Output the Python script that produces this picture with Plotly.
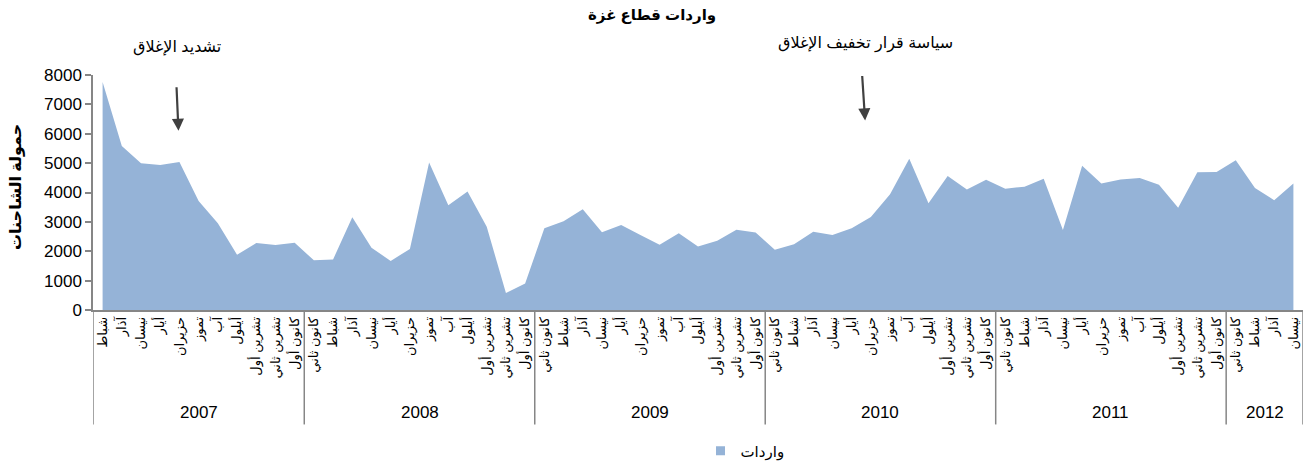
import plotly.graph_objects as go

# ---- data ----
months = ["كانون ثاني", "شباط", "آذار", "نيسان", "أيار", "حزيران", "تموز",
          "آب", "أيلول", "تشرين أول", "تشرين ثاني", "كانون أول"]
years = ["2007", "2008", "2009", "2010", "2011", "2012"]
months_per_year = [11, 12, 12, 12, 12, 4]   # 2007 starts in Feb, 2012 ends in Apr
start_month = [1, 0, 0, 0, 0, 0]

imports = [
    7760, 5580, 5000, 4940, 5040, 3710, 2950, 1880, 2280, 2210, 2290,          # 2007
    1690, 1720, 3160, 2120, 1670, 2080, 5020, 3570, 4030, 2830, 580, 900,      # 2008
    2780, 3020, 3430, 2650, 2890, 2550, 2220, 2610, 2160, 2360, 2730, 2640,    # 2009
    2050, 2240, 2660, 2550, 2780, 3170, 3940, 5150, 3630, 4560, 4100, 4430,    # 2010
    4130, 4200, 4470, 2720, 4910, 4310, 4440, 4490, 4260, 3480, 4690, 4700,    # 2011
    5100, 4150, 3740, 4310,                                                    # 2012
]

title_text = "واردات قطاع غزة"
y_title = "حمولة الشاحنات"
series_name = "واردات"
note1 = "تشديد الإغلاق"
note2 = "سياسة قرار تخفيف الإغلاق"
y_ticks = [0, 1000, 2000, 3000, 4000, 5000, 6000, 7000, 8000]

# ---- build category labels ----
labels = []
for s, n in zip(start_month, months_per_year):
    labels += months[s:s + n]
idx = list(range(len(imports)))

FONT = "Arial, 'Liberation Sans', 'DejaVu Sans', sans-serif"
AXIS = "#868686"
FILL = "#95B3D7"

fig = go.Figure()
fig.add_trace(go.Scatter(
    x=idx, y=imports, mode="none", fill="tozeroy", fillcolor=FILL,
    name=series_name, showlegend=False, legendgroup="s",
))
# legend entry with a square key, as in the original
fig.add_trace(go.Scatter(
    x=[None], y=[None], mode="markers", name=series_name, legendgroup="s",
    marker=dict(symbol="square", size=9, color=FILL), showlegend=True,
))

# year group separators and labels
bounds = [-0.5]
for n in months_per_year:
    bounds.append(bounds[-1] + n)
shapes = []
for b in bounds:
    shapes.append(dict(type="line", xref="x", yref="paper", x0=b, x1=b,
                       y0=0, y1=-0.487, line=dict(color=AXIS, width=1.5)))
annotations = []
for i, yr in enumerate(years):
    annotations.append(dict(x=(bounds[i] + bounds[i + 1]) / 2, y=-0.435,
                            xref="x", yref="paper", text=yr, showarrow=False,
                            font=dict(size=17, color="black", family=FONT),
                            xanchor="center", yanchor="middle"))

# title & y title
annotations.append(dict(x=(652 - 93) / 1210, y=(310 - 15) / 235, xref="paper", yref="paper",
                        text="<b>" + title_text + "</b>", showarrow=False,
                        font=dict(size=15, color="black", family=FONT),
                        xanchor="center", yanchor="middle"))
annotations.append(dict(x=(16 - 93) / 1210, y=(310 - 187) / 235, xref="paper", yref="paper",
                        text="<b>" + y_title + "</b>", showarrow=False, textangle=-90,
                        font=dict(size=16, color="black", family=FONT),
                        xanchor="center", yanchor="middle"))

# event notes
annotations.append(dict(x=(177 - 93) / 1210, y=(310 - 47) / 235, xref="paper", yref="paper",
                        text=note1, showarrow=False,
                        font=dict(size=16, color="black", family=FONT),
                        xanchor="center", yanchor="middle"))
annotations.append(dict(x=(865 - 93) / 1210, y=(310 - 43) / 235, xref="paper", yref="paper",
                        text=note2, showarrow=False,
                        font=dict(size=16, color="black", family=FONT),
                        xanchor="center", yanchor="middle"))
# arrows
annotations.append(dict(x=3.95, y=6100, xref="x", yref="y", text="", showarrow=True,
                        ax=-2, ay=-45, arrowhead=2, arrowsize=1.1, arrowwidth=2.2,
                        arrowcolor="#404040"))
annotations.append(dict(x=39.7, y=6450, xref="x", yref="y", text="", showarrow=True,
                        ax=-3, ay=-46, arrowhead=2, arrowsize=1.1, arrowwidth=2.2,
                        arrowcolor="#404040"))

fig.update_layout(
    width=1306, height=463,
    margin=dict(l=93, r=3, t=75, b=153, autoexpand=False),
    paper_bgcolor="white", plot_bgcolor="white",
    font=dict(family=FONT, color="black"),
    shapes=shapes, annotations=annotations,
    legend=dict(x=(745 - 93) / 1210, y=(310 - 451) / 235, xanchor="center",
                yanchor="middle", orientation="h", font=dict(size=15, family=FONT),
                bgcolor="rgba(0,0,0,0)", itemwidth=30),
    xaxis=dict(range=[-0.5, len(imports) - 0.5], tickmode="array", tickvals=idx,
               ticktext=labels, tickangle=-90, ticks="", showgrid=False,
               zeroline=False, showline=True, linecolor=AXIS, linewidth=1.5,
               automargin=False,
               tickfont=dict(size=13, family=FONT, color="black"), fixedrange=True),
    yaxis=dict(range=[0, 8000], tickmode="array", tickvals=y_ticks, ticks="outside",
               ticklen=6, tickcolor=AXIS, tickwidth=1.5, showgrid=False, zeroline=False,
               showline=True, linecolor=AXIS, linewidth=1.5, automargin=False,
               tickfont=dict(size=17, family=FONT, color="black")),
)

fig.write_html("out.html", config={"displayModeBar": False},
               post_script="document.body.style.margin='0';document.body.style.overflow='hidden';")
